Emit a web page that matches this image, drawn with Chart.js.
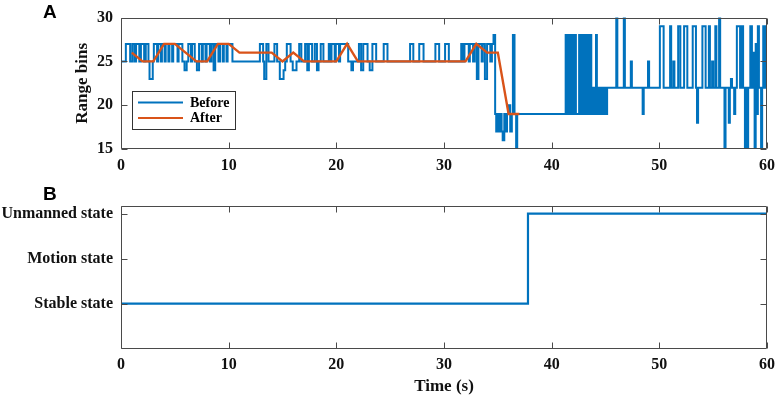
<!DOCTYPE html>
<html><head><meta charset="utf-8">
<script src="https://cdn.jsdelivr.net/npm/chart.js@4"></script>
<style>
html,body{margin:0;padding:0;background:#fff;width:782px;height:397px;overflow:hidden}
#wrapA{position:absolute;left:0;top:0;width:782px;height:180px}
#wrapB{position:absolute;left:0;top:180px;width:782px;height:217px}
canvas{display:block}
</style></head><body>
<div id="wrapA"><canvas id="cA" width="782" height="180"></canvas></div>
<div id="wrapB"><canvas id="cB" width="782" height="217"></canvas></div>
<script>
// ---------- data ----------
const timeTicks = [0, 10, 20, 30, 40, 50, 60];
const rangeTicks = [15, 20, 25, 30];

// "Before": range bin, as change points (time s -> value held from that time)
const beforeT = [
  0, 0.45, 0.85, 1.05, 1.25, 1.4, 1.7, 1.85, 2.15, 2.3,
  2.55, 2.65, 2.95, 3.05, 3.35, 3.45, 3.7, 3.8, 4.05, 4.15,
  4.4, 4.5, 4.75, 4.85, 5.25, 5.35, 5.7, 5.9, 6.1, 6.25,
  6.5, 6.6, 6.85, 7.05, 7.25, 7.5, 7.6, 7.85, 7.95, 8.25,
  8.4, 8.6, 8.75, 9.05, 9.2, 9.45, 9.55, 9.8, 9.9, 10.35,
  12.9, 13.2, 13.3, 13.5, 13.7, 14.25, 14.5, 14.75, 15.1, 15.25,
  15.4, 15.75, 15.95, 16.3, 16.55, 16.75, 17.1, 17.3, 17.45, 17.75,
  18.0, 18.2, 18.35, 18.55, 18.8, 19.3, 19.45, 19.55, 19.85, 19.95,
  20.25, 20.35, 21.1, 21.4, 21.55, 22.1, 22.3, 22.5, 22.9, 23.1,
  23.35, 23.7, 24.4, 24.75, 26.85, 27.15, 27.7, 28.1, 29.2, 29.55,
  30.1, 30.45, 31.6, 31.75, 31.9, 32.3, 32.4, 32.7, 32.85, 33.05,
  33.2, 33.5, 33.6, 33.8, 34.0, 34.3, 34.45, 34.6, 34.75, 34.85,
  34.95, 35.1, 35.2, 35.35, 35.45, 35.6, 35.75, 35.85, 36.0, 36.15,
  36.3, 36.4, 36.55, 36.7, 36.8,
  41.3, 41.4, 41.45, 41.55, 41.62, 41.72, 41.8, 41.92, 41.98, 42.08,
  42.15, 42.25, 42.55, 42.65, 42.72, 42.82, 42.88, 42.98, 43.05, 43.15,
  43.22, 43.32, 43.4, 43.5, 43.58, 43.68, 43.8, 43.88, 43.95, 44.05,
  44.12, 44.2, 44.28, 44.36, 44.45, 44.55, 44.63, 44.72, 44.8, 44.9,
  44.98, 45.08, 45.15, 46.0, 46.1, 46.7, 46.8, 47.35, 47.45, 48.45,
  48.55, 48.95, 49.05, 50.05, 50.4, 51.0, 51.1, 51.3, 51.4, 51.75,
  51.95, 52.3, 52.6, 53.1, 53.4, 53.5, 53.6, 54.0, 54.3, 54.6,
  54.7, 54.9, 55.0, 55.2, 55.3, 55.55, 55.65, 56.05, 56.15, 56.45,
  56.55, 56.65, 56.75, 56.95, 57.05, 57.2, 57.5, 57.62, 57.78, 57.95,
  58.05, 58.15, 58.25, 58.45, 58.6, 58.75, 58.85, 58.95, 59.05, 59.15,
  59.25, 59.45, 59.55, 59.65, 59.75, 59.85, 60
];
const beforeV = [
  25, 27, 25, 27, 25, 27, 25, 27, 25, 27,
  25, 23, 25, 27, 25, 27, 25, 27, 25, 27,
  25, 27, 25, 27, 25, 27, 25, 24, 25, 27,
  25, 27, 25, 24, 27, 25, 27, 25, 27, 25,
  27, 24, 27, 25, 27, 25, 27, 25, 27, 25,
  27, 25, 23, 27, 25, 27, 25, 23, 24, 25,
  27, 25, 24, 25, 27, 25, 27, 24, 27, 25,
  27, 24, 25, 27, 25, 27, 25, 27, 25, 27,
  25, 27, 25, 24, 25, 27, 24, 27, 25, 24,
  27, 25, 27, 25, 27, 25, 27, 25, 27, 25,
  27, 25, 27, 25, 27, 25, 27, 25, 27, 23,
  27, 25, 27, 23, 27, 25, 27, 28, 19, 17,
  19, 17, 19, 17, 16, 19, 17, 19, 20, 17,
  19, 28, 19, 15, 19,
  28, 19, 28, 19, 28, 19, 28, 19, 28, 19,
  28, 19, 28, 19, 28, 19, 28, 19, 28, 19,
  28, 19, 28, 19, 28, 19, 22, 19, 22, 19,
  28, 19, 22, 19, 22, 19, 22, 19, 22, 19,
  22, 19, 22, 30, 22, 30, 22, 25, 22, 19,
  22, 25, 22, 29, 22, 29, 22, 25, 22, 29,
  22, 29, 22, 29, 22, 18, 22, 29, 22, 29,
  22, 25, 22, 29, 22, 30, 22, 15, 22, 18,
  22, 23, 22, 19, 22, 29, 22, 29, 22, 15,
  22, 15, 22, 29, 22, 26, 15, 27, 19, 29,
  22, 15, 22, 29, 22, 29, 29
];

// "After": smoothed range bin, one sample per second
const afterT = [1, 2, 3, 4, 5, 6, 7, 8, 9, 10, 11, 12, 13, 14, 15, 16, 17, 18, 19,
  20, 21, 22, 23, 24, 25, 26, 27, 28, 29, 30, 31, 32, 33, 34, 35, 36, 37];
const afterV = [26, 25, 25, 27, 27, 26, 25, 25, 27, 27, 26, 26, 26, 26, 25, 26, 25, 25, 25,
  25, 27, 25, 25, 25, 25, 25, 25, 25, 25, 25, 25, 25, 27, 26, 26, 19, 19];

// Panel B: detected state (1 stable, 2 motion, 3 unmanned)
const stateT = [0, 37.8, 60];
const stateV = [1, 3, 3];
const stateTickValues = [1, 2, 3];
const stateLabels = ['Stable state', 'Motion state', 'Unmanned state'];

// ---------- styling ----------
const BLUE = '#0072BD', ORANGE = '#D95319', AXIS = '#4a4a4a', TXT = '#111';
const SERIF = "'Liberation Serif', 'Times New Roman', serif";
const TICK_SIZE = 16;
Chart.defaults.font.family = SERIF;
Chart.defaults.font.weight = 'bold';
Chart.defaults.color = TXT;

const pts = (xs, ys) => xs.map((x, i) => ({x, y: ys[i]}));

const frame = {
  id: 'frame',
  afterDatasetsDraw(chart) {
    const {ctx, chartArea: a, scales} = chart;
    ctx.save();
    ctx.strokeStyle = AXIS; ctx.lineWidth = 1;
    const L = Math.round(a.left) + 0.5, R = Math.round(a.right) - 0.5;
    const T = Math.round(a.top) + 0.5, B = Math.round(a.bottom) - 0.5;
    ctx.beginPath();
    ctx.rect(L, T, R - L, B - T);
    const tl = 6;
    scales.x.ticks.forEach(t => {
      const px = Math.round(scales.x.getPixelForValue(t.value)) + 0.5;
      ctx.moveTo(px, B); ctx.lineTo(px, B - tl);
      ctx.moveTo(px, T); ctx.lineTo(px, T + tl);
    });
    scales.y.ticks.forEach(t => {
      const py = Math.round(scales.y.getPixelForValue(t.value)) + 0.5;
      ctx.moveTo(L, py); ctx.lineTo(L + tl, py);
      ctx.moveTo(R, py); ctx.lineTo(R - tl, py);
    });
    ctx.stroke();
    ctx.restore();
  }
};

const panelLabel = {
  id: 'panelLabel',
  afterDraw(chart, args, opts) {
    const ctx = chart.ctx;
    ctx.save();
    ctx.font = "bold 19px 'Liberation Sans', Arial, sans-serif";
    ctx.fillStyle = '#000';
    ctx.textBaseline = 'alphabetic';
    ctx.fillText(opts.text, opts.x, opts.y);
    ctx.restore();
  }
};

const legendBox = {
  id: 'legendBox',
  afterDraw(chart, args, opts) {
    if (!opts.show) return;
    const ctx = chart.ctx;
    const ds = chart.data.datasets;
    const items = [ds.find(d => d.label === 'Before'), ds.find(d => d.label === 'After')];
    ctx.save();
    ctx.fillStyle = '#fff';
    ctx.fillRect(132.5, 91.5, 103, 38);
    ctx.strokeStyle = '#333'; ctx.lineWidth = 1;
    ctx.strokeRect(132.5, 91.5, 103, 38);
    const rows = [102.5, 118];
    items.forEach((d, i) => {
      ctx.strokeStyle = d.borderColor; ctx.lineWidth = 2.2;
      ctx.beginPath(); ctx.moveTo(138, rows[i]); ctx.lineTo(183, rows[i]); ctx.stroke();
      ctx.fillStyle = '#000';
      ctx.font = "bold 14px " + SERIF;
      ctx.textBaseline = 'middle';
      ctx.fillText(d.label, 190, rows[i] + 0.5);
    });
    ctx.restore();
  }
};

const xScale = (h, title) => ({
  type: 'linear', min: 0, max: 60,
  afterBuildTicks: s => { s.ticks = timeTicks.map(v => ({value: v})); },
  afterFit: s => { s.height = h; },
  grid: {display: false, drawTicks: false},
  border: {display: false},
  ticks: {padding: 7, font: {size: TICK_SIZE, weight: 'bold'}, color: TXT, maxRotation: 0, autoSkip: false},
  title: title ? {display: true, text: title, font: {size: 17, weight: 'bold'}, color: TXT, padding: {top: 0, bottom: 0}} : {display: false}
});

new Chart(document.getElementById('cA'), {
  type: 'line',
  data: {
    datasets: [
      {label: 'Before', data: pts(beforeT, beforeV), borderColor: BLUE, borderWidth: 2, stepped: true, pointRadius: 0, order: 2},
      {label: 'After', data: pts(afterT, afterV), borderColor: ORANGE, borderWidth: 2.4, pointRadius: 0, order: 1}
    ]
  },
  options: {
    responsive: false, animation: false, devicePixelRatio: 1,
    layout: {padding: {top: 6, right: 9, left: 0, bottom: 0}},
    plugins: {legend: {display: false}, tooltip: {enabled: false},
      panelLabel: {text: 'A', x: 43, y: 18}, legendBox: {show: true}},
    scales: {
      x: xScale(31, null),
      y: {
        min: 15, max: 30,
        afterBuildTicks: s => { s.ticks = rangeTicks.map(v => ({value: v})); },
        afterFit: s => { s.width = 121; },
        grid: {display: false, drawTicks: false},
        border: {display: false},
        ticks: {padding: 8, font: {size: TICK_SIZE, weight: 'bold'}, color: TXT},
        title: {display: true, text: 'Range bins', font: {size: 17, weight: 'bold'}, color: TXT, padding: {top: 72, bottom: 0}}
      }
    }
  },
  plugins: [frame, panelLabel, legendBox]
});

new Chart(document.getElementById('cB'), {
  type: 'line',
  data: {
    datasets: [
      {label: 'State', data: pts(stateT, stateV), borderColor: BLUE, borderWidth: 2.2, stepped: true, pointRadius: 0}
    ]
  },
  options: {
    responsive: false, animation: false, devicePixelRatio: 1,
    layout: {padding: {top: 26, right: 9, left: 0, bottom: 0}},
    plugins: {legend: {display: false}, tooltip: {enabled: false},
      panelLabel: {text: 'B', x: 43, y: 20}, legendBox: {show: false}},
    scales: {
      x: xScale(48.5, 'Time (s)'),
      y: {
        min: 0, max: 3.17,
        afterBuildTicks: s => { s.ticks = stateTickValues.map(v => ({value: v})); },
        afterFit: s => { s.width = 121; },
        grid: {display: false, drawTicks: false},
        border: {display: false},
        ticks: {padding: 8, font: {size: TICK_SIZE, weight: 'bold'}, color: TXT,
          callback: v => stateLabels[stateTickValues.indexOf(v)]}
      }
    }
  },
  plugins: [frame, panelLabel, legendBox]
});
</script>
</body></html>
